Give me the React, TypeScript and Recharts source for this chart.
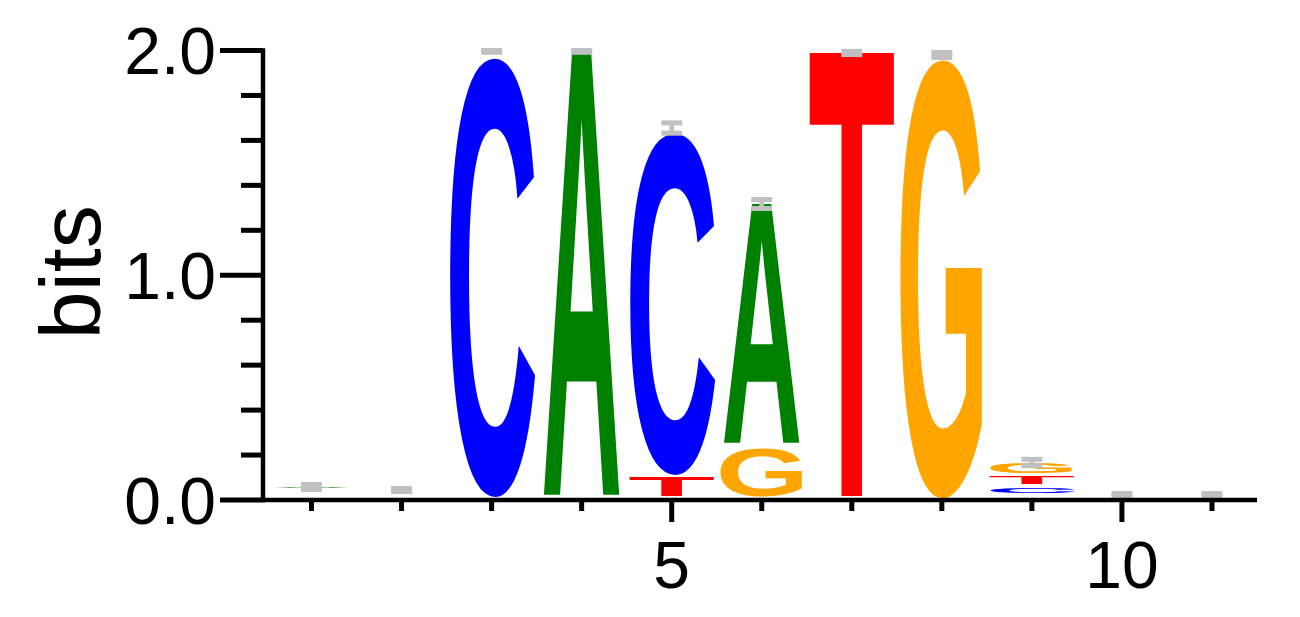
import React from "react";
import { Bar, ComposedChart, ErrorBar, Line, XAxis, YAxis } from "recharts";

// sequence logo: information content (bits) per letter at each position
const POSITIONS = [1, 2, 3, 4, 5, 6, 7, 8, 9, 10, 11];
const BITS_A = [0.02, 0.011, 0.002, 1.99, 0, 1.08, 0, 0, 0.013, 0.005, 0.006];
const BITS_C = [0.012, 0.011, 1.99, 0.002, 1.553, 0, 0, 0, 0.04, 0.005, 0.005];
const BITS_G = [0.012, 0.011, 0.002, 0.002, 0, 0.237, 0, 1.98, 0.065, 0.006, 0.005];
const BITS_T = [0.014, 0.0115, 0.002, 0.002, 0.102, 0, 1.989, 0, 0.049, 0.006, 0.006];
const ERR = [0.011, 0.007, 0.004, 0.004, 0.023, 0.02, 0.007, 0.011, 0.014, 0.007, 0.007];

const Y_TICKS = [0, 0.2, 0.4, 0.6, 0.8, 1.0, 1.2, 1.4, 1.6, 1.8, 2.0];
const Y_LABELED = [0, 1, 2];
const X_LABELED = [5, 10];

const COLORS: Record<string, string> = {
  A: "#008000",
  C: "#0000ff",
  G: "#ffa500",
  T: "#ff0000",
};

const FONT = '"Liberation Sans", Arial, Helvetica, sans-serif';
const LETTER_GAP = 4;
const LAYERS = [0, 1, 2, 3];

// smallest letter at the bottom of each stack
const data = POSITIONS.map((pos, i) => {
  const stack: [string, number][] = [
    ["A", BITS_A[i]],
    ["C", BITS_C[i]],
    ["G", BITS_G[i]],
    ["T", BITS_T[i]],
  ];
  stack.sort((a, b) => a[1] - b[1]);
  const row: Record<string, any> = { pos, err: ERR[i], total: 0 };
  stack.forEach(([letter, v], k) => {
    row[`h${k}`] = v;
    row[`l${k}`] = letter;
    row.total += v;
  });
  return row;
});

// ink box of each bold glyph at font-size 100 (baseline at 0)
type Box = { left: number; right: number; ascent: number; descent: number };
const GLYPH_BOX: Record<string, Box> = {
  A: { left: 0, right: 72.2, ascent: 68.8, descent: 0 },
  C: { left: -4.8, right: 67.2, ascent: 71.0, descent: 0.6 },
  G: { left: -4.8, right: 72.0, ascent: 70.7, descent: 0.6 },
  T: { left: -2.2, right: 58.9, ascent: 68.8, descent: 0 },
};

function LetterShape(props: any) {
  const { x, y, width, height, letter } = props;
  if (!letter || !(height > 0)) return null;
  const gap = Math.min(LETTER_GAP, height * 0.85);
  const h = height - gap;
  if (h < 0.6) return null;
  const m = GLYPH_BOX[letter];
  const sx = width / (m.left + m.right);
  const sy = h / (m.ascent + m.descent);
  return (
    <text
      transform={`translate(${x + m.left * sx},${y + m.ascent * sy}) scale(${sx},${sy})`}
      fontFamily={FONT}
      fontWeight="bold"
      fontSize={100}
      fill={COLORS[letter]}
    >
      {letter}
    </text>
  );
}

function YTick(props: any) {
  const { x, y, payload } = props;
  const v = payload.value;
  const major = Y_LABELED.some((t) => Math.abs(t - v) < 1e-6);
  return (
    <g>
      <line x1={x - (major ? 43 : 22)} x2={x} y1={y} y2={y} stroke="#000" strokeWidth={5} />
      {major && (
        <text x={x - 47} y={y + 23.5} textAnchor="end" fontFamily={FONT} fontSize={66} fill="#000">
          {v.toFixed(1)}
        </text>
      )}
    </g>
  );
}

function XTick(props: any) {
  const { x, y, payload } = props;
  const major = X_LABELED.includes(payload.value);
  return (
    <g>
      <line x1={x} x2={x} y1={y} y2={y + (major ? 22 : 11)} stroke="#000" strokeWidth={5} />
      {major && (
        <text x={x} y={y + 88} textAnchor="middle" fontFamily={FONT} fontSize={66} fill="#000">
          {payload.value}
        </text>
      )}
    </g>
  );
}

function BitsLabel(props: any) {
  const { viewBox } = props;
  const cy = viewBox.y + viewBox.height / 2;
  return (
    <text
      transform={`translate(100,${cy - 3}) rotate(-90)`}
      textAnchor="middle"
      fontFamily={FONT}
      fontSize={86}
      fill="#000"
    >
      bits
    </text>
  );
}

export default function App() {
  return (
    <div style={{ position: "absolute", left: 0, top: 0, width: 1300, height: 617, background: "#fff" }}>
      <ComposedChart
        width={1300}
        height={617}
        data={data}
        margin={{ top: 50.5, right: 43, bottom: 17, left: 0 }}
        barCategoryGap="5%"
      >
        <XAxis
          dataKey="pos"
          type="category"
          height={100}
          interval={0}
          padding={{ left: 3.5, right: 0 }}
          axisLine={{ stroke: "#000", strokeWidth: 4.5 }}
          tickLine={false}
          tickSize={0}
          tickMargin={0}
          tick={<XTick />}
        />
        <YAxis
          type="number"
          domain={[0, 2]}
          ticks={Y_TICKS}
          interval={0}
          width={263}
          axisLine={{ stroke: "#000", strokeWidth: 4.5, strokeLinecap: "square" }}
          tickLine={false}
          tickSize={0}
          tickMargin={0}
          tick={<YTick />}
          label={<BitsLabel />}
        />
        {LAYERS.map((k) => (
          <Bar
            key={k}
            dataKey={`h${k}`}
            stackId="logo"
            isAnimationActive={false}
            shape={(p: any) => <LetterShape {...p} letter={p.payload?.[`l${k}`]} />}
          />
        ))}
        <Line
          dataKey="total"
          stroke="none"
          dot={false}
          activeDot={false}
          legendType="none"
          isAnimationActive={false}
        >
          <ErrorBar
            dataKey="err"
            direction="y"
            width={10.5}
            strokeWidth={5}
            stroke="#c0c0c0"
            isAnimationActive={false}
          />
        </Line>
      </ComposedChart>
    </div>
  );
}
